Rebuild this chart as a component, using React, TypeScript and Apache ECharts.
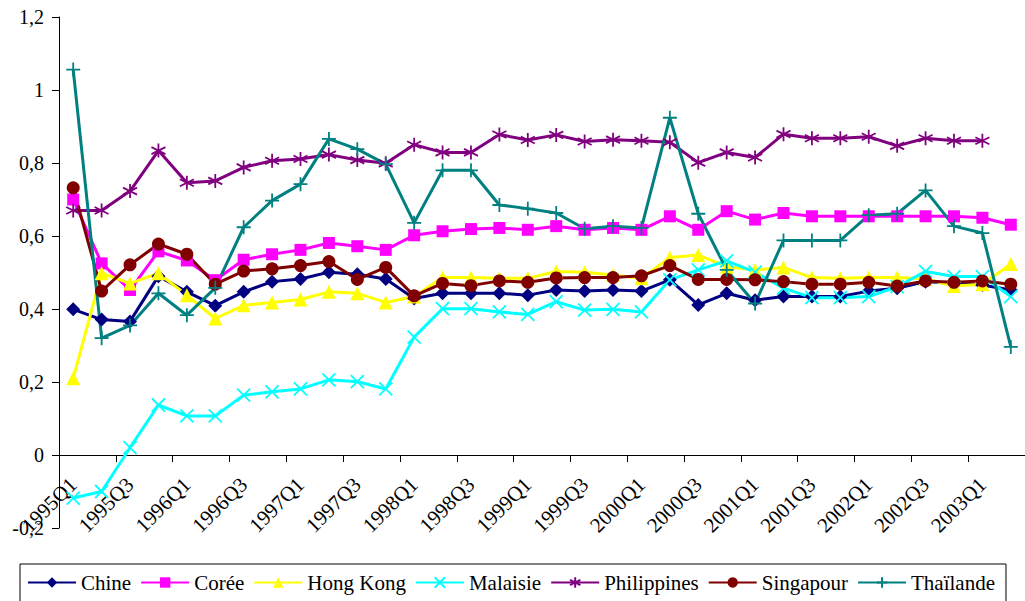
import React, { useEffect, useRef } from "react";
import * as echarts from "echarts";

const quarters = [
  "1995Q1","1995Q2","1995Q3","1995Q4","1996Q1","1996Q2","1996Q3","1996Q4",
  "1997Q1","1997Q2","1997Q3","1997Q4","1998Q1","1998Q2","1998Q3","1998Q4",
  "1999Q1","1999Q2","1999Q3","1999Q4","2000Q1","2000Q2","2000Q3","2000Q4",
  "2001Q1","2001Q2","2001Q3","2001Q4","2002Q1","2002Q2","2002Q3","2002Q4",
  "2003Q1","2003Q2",
];

const chine = [0.399,0.371,0.366,0.49,0.447,0.409,0.447,0.475,0.482,0.501,0.495,0.482,0.429,0.443,0.443,0.443,0.438,0.452,0.449,0.452,0.449,0.48,0.411,0.443,0.424,0.434,0.434,0.434,0.449,0.457,0.475,0.47,0.466,0.452];
const coree = [0.7,0.525,0.452,0.558,0.533,0.479,0.535,0.55,0.562,0.581,0.572,0.562,0.602,0.613,0.619,0.622,0.617,0.627,0.617,0.622,0.617,0.654,0.617,0.668,0.645,0.663,0.654,0.654,0.654,0.654,0.654,0.654,0.65,0.631];
const hongKong = [0.21,0.498,0.47,0.498,0.438,0.374,0.41,0.418,0.426,0.447,0.443,0.418,0.434,0.486,0.486,0.484,0.484,0.503,0.501,0.493,0.484,0.541,0.548,0.516,0.507,0.514,0.486,0.484,0.486,0.486,0.482,0.463,0.468,0.523];
const malaisie = [-0.118,-0.1,0.02,0.137,0.107,0.107,0.164,0.173,0.181,0.206,0.201,0.181,0.323,0.401,0.401,0.392,0.385,0.42,0.397,0.399,0.392,0.48,0.507,0.532,0.501,0.457,0.431,0.431,0.434,0.461,0.503,0.489,0.489,0.434];
const philippines = [0.67,0.67,0.723,0.834,0.746,0.751,0.788,0.806,0.811,0.823,0.808,0.799,0.85,0.829,0.829,0.878,0.863,0.877,0.859,0.864,0.861,0.857,0.801,0.829,0.815,0.879,0.868,0.868,0.872,0.847,0.868,0.861,0.861,null];
const singapour = [0.732,0.449,0.521,0.578,0.55,0.468,0.504,0.51,0.519,0.53,0.481,0.514,0.436,0.47,0.464,0.477,0.473,0.485,0.486,0.486,0.491,0.519,0.481,0.481,0.48,0.475,0.468,0.468,0.473,0.463,0.477,0.473,0.477,0.468];
const thailande = [1.056,0.32,0.355,0.443,0.383,0.458,0.624,0.697,0.742,0.866,0.838,0.797,0.636,0.78,0.78,0.685,0.675,0.663,0.62,0.627,0.622,0.924,0.661,0.507,0.415,0.588,0.588,0.588,0.657,0.661,0.725,0.627,0.608,0.296];

const yTicks = { min: -0.2, max: 1.2, interval: 0.2 };

const FONT = "Times New Roman, Liberation Serif, serif";

const X_PATH = "path://M0,0L10,10M10,0L0,10";
const STAR_PATH = "path://M5,0L5,10M0.67,2.5L9.33,7.5M0.67,7.5L9.33,2.5";
const PLUS_PATH = "path://M5,0L5,10M0,5L10,5";

const GRID = { left: 59, right: -2, top: 17, bottom: 73 };
const CHART_H = 601;

export default function App() {
  const ref = useRef<HTMLDivElement>(null);
  useEffect(() => {
    if (!ref.current) return;
    const chart = echarts.init(ref.current, undefined, { renderer: "svg" });

    const mk = (
      name: string,
      data: (number | null)[],
      color: string,
      symbol: string,
      symbolSize: number,
      stroked: boolean
    ) => ({
      name,
      type: "line",
      data,
      symbol,
      symbolSize,
      showAllSymbol: true,
      connectNulls: false,
      lineStyle: { color, width: 3 },
      itemStyle: stroked
        ? { color, borderColor: color, borderWidth: 1.8 }
        : { color, borderWidth: 0 },
      emphasis: { disabled: true },
    });

    // place the category axis on the value 0 line
    const plotH = CHART_H - GRID.top - GRID.bottom;
    const zeroOffset = -plotH * (0 - yTicks.min) / (yTicks.max - yTicks.min);

    chart.setOption({
      animation: false,
      textStyle: { fontFamily: FONT },
      grid: GRID,
      xAxis: {
        type: "category",
        data: quarters,
        boundaryGap: true,
        position: "bottom",
        offset: zeroOffset,
        axisLine: { show: true, onZero: false, lineStyle: { color: "#000", width: 1 } },
        axisTick: { show: true, length: 7, lineStyle: { color: "#000" } },
        axisLabel: {
          interval: 1,
          rotate: 45,
          margin: 26,
          fontFamily: FONT,
          fontSize: 21,
          color: "#000",
        },
        splitLine: { show: false },
      },
      yAxis: {
        type: "value",
        min: yTicks.min,
        max: yTicks.max,
        interval: yTicks.interval,
        axisLine: { show: true, onZero: false, lineStyle: { color: "#000", width: 1 } },
        axisTick: { show: true, length: 7, lineStyle: { color: "#000" } },
        axisLabel: {
          margin: 15,
          fontFamily: FONT,
          fontSize: 20,
          color: "#000",
          formatter: (v: number) => String(Math.round(v * 10) / 10).replace(".", ","),
        },
        splitLine: { show: false },
      },
      legend: {
        left: 20,
        top: 564,
        orient: "horizontal",
        padding: [8, 11, 10, 7],
        itemGap: 9,
        itemWidth: 48,
        itemHeight: 13,
        borderColor: "#000",
        borderWidth: 1,
        textStyle: { fontFamily: FONT, fontSize: 21, color: "#000" },
        data: ["Chine", "Corée", "Hong Kong", "Malaisie", "Philippines", "Singapour", "Thaïlande"],
      },
      series: [
        mk("Chine", chine, "#000080", "diamond", 14, false),
        mk("Corée", coree, "#FF00FF", "rect", 12, false),
        mk("Hong Kong", hongKong, "#FFFF00", "triangle", 14, false),
        mk("Malaisie", malaisie, "#00FFFF", X_PATH, 13, true),
        mk("Philippines", philippines, "#800080", STAR_PATH, 14, true),
        mk("Singapour", singapour, "#800000", "circle", 13, false),
        mk("Thaïlande", thailande, "#008080", PLUS_PATH, 14, true),
      ],
    });
    return () => chart.dispose();
  }, []);
  return (
    <div
      ref={ref}
      style={{ position: "fixed", left: 0, top: 0, width: 1025, height: 601, background: "#fff" }}
    />
  );
}
